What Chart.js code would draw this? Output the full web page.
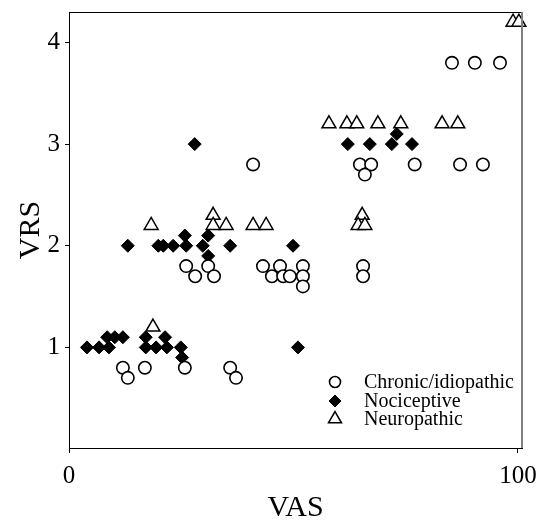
<!DOCTYPE html>
<html><head><meta charset="utf-8">
<script src="https://cdn.jsdelivr.net/npm/chart.js@4.4.1/dist/chart.umd.min.js"></script>
<style>html,body{margin:0;padding:0;background:#fff}#wrap{width:539px;height:523px}</style>
</head><body><div id="wrap"><canvas id="c" width="539" height="523"></canvas></div>
<script>
// Series labels
const seriesNames = ['Chronic/idiopathic', 'Nociceptive', 'Neuropathic'];

// Chronic/idiopathic (open circles)
const chronicVAS = [12.0, 13.1, 16.9, 25.8, 35.9, 37.2,
  26.1, 28.1, 31.0, 32.3, 43.2, 45.2, 47.0, 47.7, 49.2, 52.1, 52.1, 52.1, 65.5, 65.5,
  41.0, 64.8, 67.3, 65.9, 77.0, 87.1, 92.2,
  85.3, 90.4, 96.0];
const chronicVRS = [0.8, 0.7, 0.8, 0.8, 0.8, 0.7,
  1.8, 1.7, 1.8, 1.7, 1.8, 1.7, 1.8, 1.7, 1.7, 1.8, 1.7, 1.6, 1.8, 1.7,
  2.8, 2.8, 2.8, 2.7, 2.8, 2.8, 2.8,
  3.8, 3.8, 3.8];

// Nociceptive (filled diamonds)
const nociVAS = [4.0, 6.7, 8.9, 8.5, 10.2, 12.0, 17.1, 17.1, 19.4, 21.4, 21.8, 24.9, 25.2,
  13.1, 19.9, 21.0, 23.2, 25.8, 26.1, 29.8, 31.0, 31.0, 35.9, 49.9,
  28.0, 51.0,
  62.1, 67.0, 71.9, 73.0, 76.4];
const nociVRS = [1.0, 1.0, 1.0, 1.1, 1.1, 1.1, 1.1, 1.0, 1.0, 1.1, 1.0, 1.0, 0.9,
  2.0, 2.0, 2.0, 2.0, 2.1, 2.0, 2.0, 2.1, 1.9, 2.0, 2.0,
  3.0, 1.0,
  3.0, 3.0, 3.0, 3.1, 3.0];

// Neuropathic (open triangles)
const neuroVAS = [18.7, 18.3, 32.1, 32.1, 35.0, 41.0, 43.9, 65.3, 64.4, 65.9,
  57.9, 61.9, 64.1, 68.8, 73.9, 83.1, 86.6, 98.9, 100.2];
const neuroVRS = [1.2, 2.2, 2.3, 2.2, 2.2, 2.2, 2.2, 2.3, 2.2, 2.2,
  3.2, 3.2, 3.2, 3.2, 3.2, 3.2, 3.2, 4.2, 4.2];

// Tick labels
const xTickValues = [0, 100];
const yTickValues = [1, 2, 3, 4];

const toPts = (xs, ys) => xs.map((x, i) => ({x: x, y: ys[i]}));
const FONT = '"Liberation Serif", "Times New Roman", serif';

const boxPlugin = {
  id: 'box',
  afterDraw(chart) {
    const {ctx, chartArea: a} = chart;
    ctx.save();
    ctx.strokeStyle = '#000'; ctx.lineWidth = 1;
    ctx.beginPath(); ctx.moveTo(a.left, a.top + 0.5); ctx.lineTo(a.right, a.top + 0.5); ctx.stroke();
    ctx.strokeStyle = '#808080'; ctx.lineWidth = 2;
    ctx.beginPath(); ctx.moveTo(a.right, a.top); ctx.lineTo(a.right, a.bottom); ctx.stroke();
    ctx.restore();
  }
};

const legendPlugin = {
  id: 'insideLegend',
  afterDraw(chart) {
    const ctx = chart.ctx;
    const mx = 335, tx = 364, ys = [382, 401, 419];
    ctx.save();
    chart.data.datasets.forEach((ds, i) => {
      ctx.fillStyle = ds.backgroundColor;
      ctx.strokeStyle = ds.borderColor;
      ctx.lineWidth = ds.borderWidth;
      Chart.helpers.drawPoint(ctx, {pointStyle: ds.pointStyle, radius: ds.legendRadius, rotation: 0, borderWidth: ds.borderWidth}, mx, ys[i]);
      ctx.fillStyle = '#000';
      ctx.font = '20px ' + FONT;
      ctx.textBaseline = 'middle';
      ctx.textAlign = 'left';
      ctx.fillText(ds.label, tx, ys[i] + 1);
    });
    ctx.restore();
  }
};

const noPad = s => { s.paddingTop = 0; s.paddingBottom = 0; s.paddingLeft = 0; s.paddingRight = 0; };

new Chart(document.getElementById('c'), {
  type: 'scatter',
  data: {
    datasets: [
      {label: seriesNames[0], data: toPts(chronicVAS, chronicVRS), pointStyle: 'circle', pointRadius: 6.2,
       backgroundColor: '#fff', borderColor: '#000', borderWidth: 1.6, legendRadius: 5.5},
      {label: seriesNames[1], data: toPts(nociVAS, nociVRS), pointStyle: 'rectRot', pointRadius: 6.5,
       backgroundColor: '#000', borderColor: '#000', borderWidth: 1, legendRadius: 6},
      {label: seriesNames[2], data: toPts(neuroVAS, neuroVRS), pointStyle: 'triangle', pointRadius: 8,
       backgroundColor: '#fff', borderColor: '#000', borderWidth: 1.5, legendRadius: 7.5}
    ]
  },
  options: {
    responsive: false,
    devicePixelRatio: 1,
    animation: false,
    clip: false,
    layout: {padding: {top: 12, right: 17, left: 0, bottom: 0}},
    plugins: {legend: {display: false}, tooltip: {enabled: false}},
    scales: {
      x: {
        type: 'linear', min: 0, max: 100.9,
        afterBuildTicks: s => { s.ticks = xTickValues.map(v => ({value: v})); },
        afterFit: s => { s.height = 75; noPad(s); },
        ticks: {color: '#000', font: {family: FONT, size: 25}, padding: 8, maxRotation: 0},
        grid: {display: true, drawOnChartArea: false, drawTicks: true, tickLength: 5, color: '#000'},
        border: {display: true, color: '#000', width: 1},
        title: {display: true, text: 'VAS', color: '#000', font: {family: FONT, size: 30, lineHeight: 1}, padding: {top: 0, bottom: 0}}
      },
      y: {
        type: 'linear', min: 0.01, max: 4.3,
        afterBuildTicks: s => { s.ticks = yTickValues.map(v => ({value: v})); },
        afterFit: s => { s.width = 69; noPad(s); },
        ticks: {color: '#000', font: {family: FONT, size: 25}, padding: 5},
        grid: {display: true, drawOnChartArea: false, drawTicks: true, tickLength: 4, color: '#000'},
        border: {display: true, color: '#000', width: 1},
        title: {display: true, text: 'VRS', color: '#000', font: {family: FONT, size: 30}, padding: {top: 13, bottom: 0}}
      }
    }
  },
  plugins: [boxPlugin, legendPlugin]
});
</script>
</body></html>
